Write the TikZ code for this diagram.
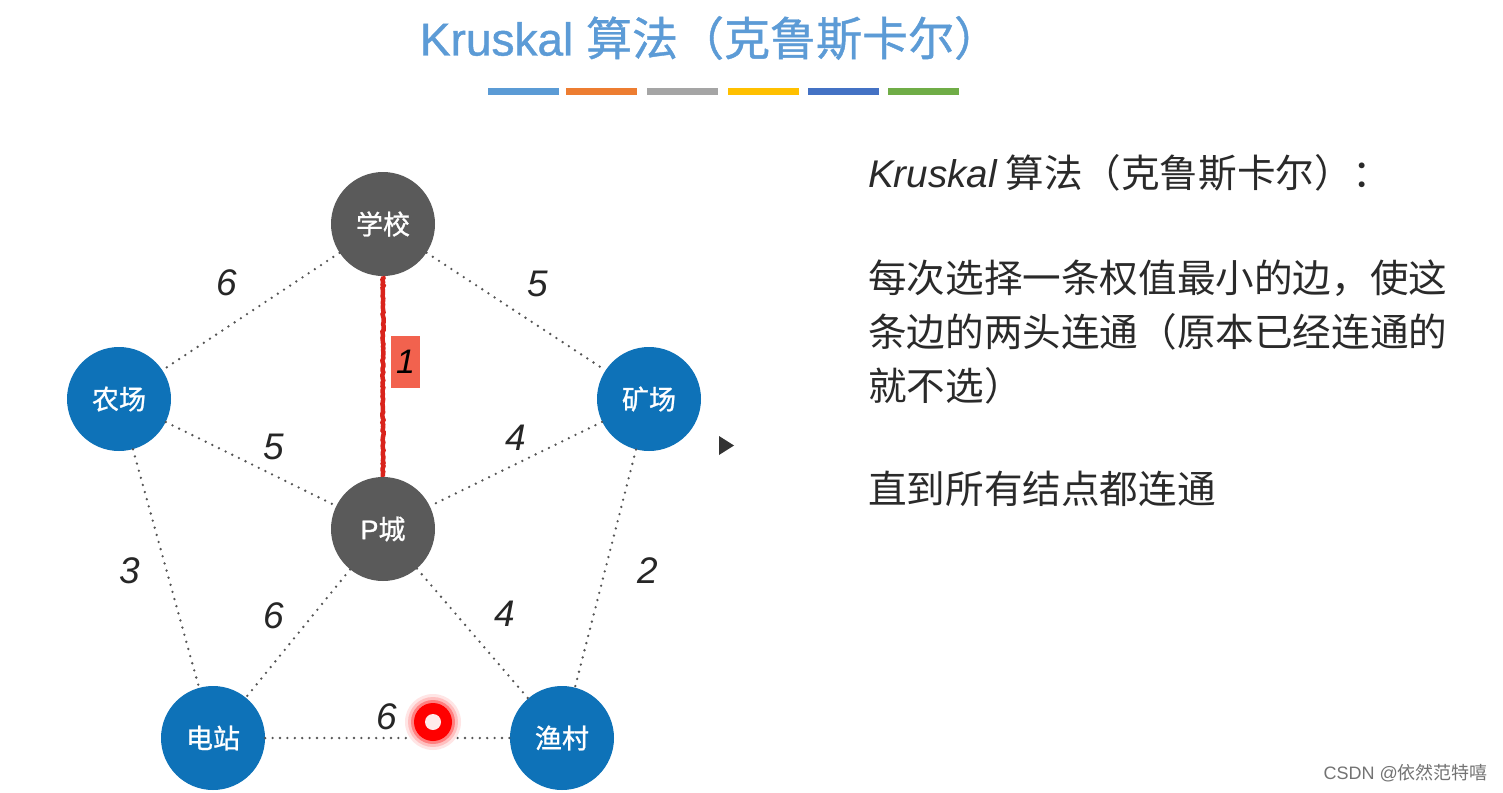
\documentclass[tikz,border=0pt]{standalone}
\usepackage{fontspec}
\setmainfont{Liberation Sans}
\newfontfamily\cjk{Noto Sans CJK SC}
\newfontfamily\cjkm[FakeBold=0.9]{Noto Sans CJK SC}
\newfontfamily\latm[FakeBold=0.9]{Liberation Sans}
\usetikzlibrary{decorations.pathmorphing}
\definecolor{nodeblue}{HTML}{0E72B8}
\definecolor{nodegray}{HTML}{5A5A5A}
\definecolor{titleblue}{HTML}{5C9BD6}
\definecolor{barA}{HTML}{5B9BD5}
\definecolor{barB}{HTML}{ED7D31}
\definecolor{barC}{HTML}{A5A5A5}
\definecolor{barD}{HTML}{FFC000}
\definecolor{barE}{HTML}{4472C4}
\definecolor{barF}{HTML}{70AD47}
\definecolor{dotgray}{HTML}{555555}
\definecolor{boxred}{HTML}{F2624E}
\definecolor{edgered}{HTML}{D9231B}
\definecolor{bodytext}{HTML}{2A2A2A}
\begin{document}
\begin{tikzpicture}[x=1pt,y=-1pt,
  vertex/.style={circle,minimum size=104pt,inner sep=0pt,text=white,
    font=\fontsize{27}{30}\selectfont\cjkm},
  bluev/.style={vertex,fill=nodeblue},
  grayv/.style={vertex,fill=nodegray},
  edge/.style={dotgray,line width=2.6pt,line cap=round,dash pattern=on 0pt off 7.4pt},
  weight/.style={font=\fontsize{37}{40}\selectfont\itshape,text=black!85,inner sep=0pt},
  chosen/.style={edgered,line width=4.5pt,decorate,
    decoration={random steps,segment length=2pt,amplitude=0.6pt}},
  bar/.style={minimum width=71pt,minimum height=7pt,inner sep=0pt},
  body/.style={anchor=west,inner sep=0pt,text=bodytext,font=\fontsize{38.6}{46}\selectfont\cjk}
]
\useasboundingbox[fill=white] (0,0) rectangle (1503,792);

% title
\node[text=titleblue,inner sep=0pt] (title) at (710,38)
  {\fontsize{46}{50}\selectfont\latm Kruskal {\cjkm 算法（克鲁斯卡尔）}};
\node[bar,fill=barA] (b1) at (523,91) {};
\node[bar,fill=barB] (b2) at (601,91) {};
\node[bar,fill=barC] (b3) at (682,91) {};
\node[bar,fill=barD] (b4) at (763,91) {};
\node[bar,fill=barE] (b5) at (843,91) {};
\node[bar,fill=barF] (b6) at (923.5,91) {};

% vertices
\node[grayv] (xx) at (383,224) {学校};
\node[bluev] (nc) at (119,399) {农场};
\node[bluev] (kc) at (649,399) {矿场};
\node[grayv] (pc) at (383,529) {{\latm P}城};
\node[bluev] (dz) at (213,738) {电站};
\node[bluev] (yc) at (562,738) {渔村};

% edges
\draw[edge] (xx) -- (nc);
\draw[edge] (xx) -- (kc);
\draw[edge] (nc) -- (pc);
\draw[edge] (kc) -- (pc);
\draw[edge] (nc) -- (dz);
\draw[edge] (kc) -- (yc);
\draw[edge] (pc) -- (dz);
\draw[edge] (pc) -- (yc);
\draw[edge] (dz) -- (yc);
\draw[chosen] (xx) -- (pc);

% weights
\node[weight] (w1) at (227,283) {6};
\node[weight] (w2) at (538,284) {5};
\node[fill=boxred,minimum width=29pt,minimum height=52pt,inner sep=0pt,
  font=\fontsize{34}{36}\selectfont\itshape] (w3) at (405.5,361.5) {1};
\node[weight] (w4) at (274,447) {5};
\node[weight] (w5) at (516,438) {4};
\node[weight] (w6) at (130,571) {3};
\node[weight] (w7) at (648,571) {2};
\node[weight] (w8) at (274,616) {6};
\node[weight] (w9) at (505,614) {4};
\node[weight] (w10) at (387,717) {6};

% pointer
\fill[red!10] (433,722) circle (28pt);
\fill[red!25] (433,722) circle (25pt);
\fill[red!50] (433,722) circle (22pt);
\fill[red] (433,722) circle (19pt);
\fill[red!8] (433,722) circle (8pt);

% play triangle
\fill[black!80] (719,436) -- (734,445.5) -- (719,455) -- cycle;

% right text
\node[body] (t1) at (868,173) {{\fontspec{Liberation Sans}\itshape Kruskal} 算法（克鲁斯卡尔）：};
\node[body] (t2) at (868,278) {每次选择一条权值最小的边，使这};
\node[body] (t3) at (868,332) {条边的两头连通（原本已经连通的};
\node[body] (t4) at (868,386) {就不选）};
\node[body] (t5) at (868,489) {直到所有结点都连通};

% watermark
\node[anchor=east,inner sep=0pt,text=black!55,font=\fontsize{18}{20}\selectfont] (wm) at (1488,773)
  {CSDN @{\cjk 依然范特嘻}};
\end{tikzpicture}
\end{document}
